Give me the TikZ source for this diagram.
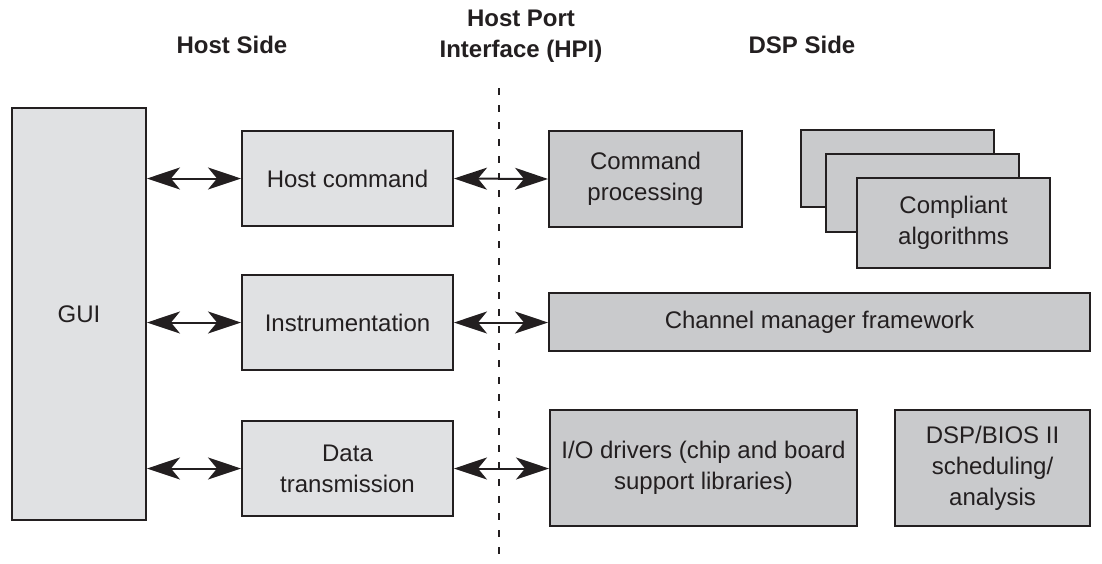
\documentclass[tikz,border=0pt]{standalone}
\usepackage{fontspec}
\setmainfont{Liberation Sans}
\usetikzlibrary{arrows.meta}
\definecolor{ink}{HTML}{231F20}
\definecolor{hostgray}{HTML}{E0E1E3}
\definecolor{dspgray}{HTML}{C9CACC}

\begin{document}
\begin{tikzpicture}[x=0.5pt,y=-0.5pt,
  every node/.style={font=\fontsize{12pt}{15.5pt}\selectfont, text=ink, align=center},
  hostbox/.style={draw=ink, line width=1pt, fill=hostgray, inner sep=0pt},
  dspbox/.style={draw=ink, line width=1pt, fill=dspgray, inner sep=0pt},
  heading/.style={font=\fontsize{12pt}{15.5pt}\selectfont\bfseries},
  biarrow/.style={arrows={Stealth[length=16.5pt,width=11pt,inset=4.5pt]-Stealth[length=16.5pt,width=11pt,inset=4.5pt]}, line width=1pt, draw=ink},
  hpiline/.style={draw=ink, line width=1pt, dash pattern=on 3.5pt off 5pt}]
\useasboundingbox (0,0) rectangle (1102,563);
% headings
\node[heading] (hostside) at (232,45) {Host Side};
\node[heading] (hpi) at (521,36) {Host Port\\Interface (HPI)};
\node[heading] (dspside) at (802,45) {DSP Side};
\coordinate (hpitop) at (499,88);
\coordinate (hpibot) at (499,563);
\draw[hpiline] (hpitop) -- (hpibot);
% host side
\node[hostbox, minimum width=67pt, minimum height=206pt] (gui) at (79,314) {GUI};
\node[hostbox, minimum width=105.5pt, minimum height=47.5pt] (hcmd) at (347.5,178.5) {Host command};
\node[hostbox, minimum width=105.5pt, minimum height=47.5pt] (instr) at (347.5,322.5) {Instrumentation};
\node[hostbox, minimum width=105.5pt, minimum height=47.5pt] (dtx) at (347.5,468.5) {Data\\transmission};
% dsp side
\node[dspbox, minimum width=96.5pt, minimum height=48pt] (cproc) at (645.5,179) {Command\\processing};
\node[dspbox, minimum width=96.5pt, minimum height=38.5pt] (algc) at (897.5,168.5) {};
\node[dspbox, minimum width=96.5pt, minimum height=39pt] (algb) at (922.5,193) {};
\node[dspbox, minimum width=96.5pt, minimum height=45pt] (alga) at (953.5,223) {Compliant\\algorithms};
\node[dspbox, minimum width=270.5pt, minimum height=29pt] (chan) at (819.5,322) {Channel manager framework};
\node[dspbox, minimum width=153.5pt, minimum height=58pt] (iodrv) at (703.5,468) {I/O drivers (chip and board\\support libraries)};
\node[dspbox, minimum width=97.5pt, minimum height=58pt] (bios) at (992.5,468) {DSP/BIOS II\\scheduling/\\analysis};
% connectors
\foreach \b in {hcmd,instr,dtx}{
  \draw[biarrow] (gui.east |- \b.west) -- (\b.west);}
\draw[biarrow] (hcmd.east) -- (cproc.west);
\draw[biarrow] (instr.east) -- (instr.east -| chan.west);
\draw[biarrow] (dtx.east) -- (dtx.east -| iodrv.west);
\end{tikzpicture}
\end{document}
